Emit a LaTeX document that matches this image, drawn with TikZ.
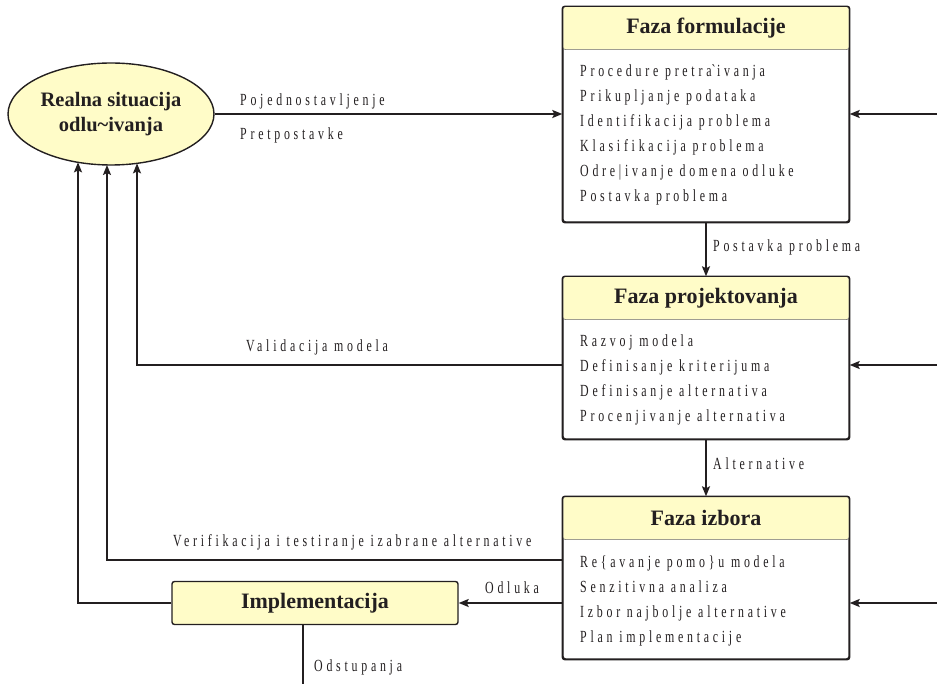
\documentclass[tikz,border=0pt]{standalone}
\usepackage{fontspec}
\setmainfont{Liberation Serif}
\newfontfamily\spacedfont{Liberation Serif}[FakeStretch=0.7,LetterSpace=22,Ligatures=CommonOff]
\usetikzlibrary{arrows.meta,intersections,calc,shapes.geometric}
\definecolor{ink}{HTML}{231F20}
\definecolor{hdr}{HTML}{FFFCC8}
\definecolor{rulegray}{HTML}{6D6A6B}

\tikzset{
  lbl/.style={font=\fontsize{17}{25}\selectfont\spacedfont, text=ink, inner sep=0pt, anchor=base west},
  ttl/.style={font=\fontsize{22}{25}\selectfont\bfseries, text=ink},
  phase/.style={draw=ink, line width=1.4pt, fill=white, rounded corners=2.5pt,
                minimum width=286pt, inner sep=0pt},
  header/.style={ttl, draw=rulegray, line width=0.6pt, fill=hdr, rounded corners=2.5pt,
                 minimum width=286pt, minimum height=43pt, inner sep=0pt, anchor=north},
  outline/.style={draw=ink, line width=1.4pt, rounded corners=2.5pt},
  flow/.style={draw=ink, line width=1.8pt},
  arr/.style={flow, -{Stealth[length=10pt,width=8pt,inset=2pt]}},
}

\begin{document}
\begin{tikzpicture}[x=1pt,y=-1pt]
\useasboundingbox (0,0) rectangle (937,684);

% situation ellipse
\node[ellipse, draw=ink, line width=1.4pt, fill=hdr, minimum width=206pt, minimum height=102pt,
      inner sep=0pt, align=center, font=\fontsize{20.5}{25}\selectfont\bfseries, text=ink]
      (ell) at (111,114) {Realna situacija\\odlu\textasciitilde ivanja};
\path[name path=rim] (111,114) ellipse [x radius=103, y radius=51];

% phase boxes
\node[phase, minimum height=215pt] (f1) at (706,114.5) {};
\node[header] (f1h) at (f1.north) {Faza formulacije};
\draw[outline] (f1.south west) rectangle (f1.north east);
\foreach \t [count=\i] in {Procedure pretra\textasciigrave ivanja, Prikupljanje podataka,
    Identifikacija problema, Klasifikacija problema, Odre\textbar ivanje domena odluke,
    Postavka problema}
  \node[lbl] (f1-\i) at (580,{77+25*(\i-1)}) {\t};

\node[phase, minimum height=162pt] (f2) at (706,358) {};
\node[header] (f2h) at (f2.north) {Faza projektovanja};
\draw[outline] (f2.south west) rectangle (f2.north east);
\foreach \t [count=\i] in {Razvoj modela, Definisanje kriterijuma,
    Definisanje alternativa, Procenjivanje alternativa}
  \node[lbl] (f2-\i) at (580,{347+24.7*(\i-1)}) {\t};

\node[phase, minimum height=162pt] (f3) at (706,578) {};
\node[header] (f3h) at (f3.north) {Faza izbora};
\draw[outline] (f3.south west) rectangle (f3.north east);
\foreach \t [count=\i] in {Re\{avanje pomo\}u modela, Senzitivna analiza,
    Izbor najbolje alternative, Plan implementacije}
  \node[lbl] (f3-\i) at (580,{567+25*(\i-1)}) {\t};

\node[header, anchor=center, draw=ink, line width=1.4pt] (impl) at (315,603) {Implementacija};

% free ends of connectors
\coordinate (r1) at (937,114);
\coordinate (r2) at (937,365);
\coordinate (r3) at (937,603);
\coordinate (vy) at (0,560);
\coordinate (odst) at (303,684);

% landing points on the ellipse rim
\path[name path=c1] (78,300) -- (78,0);
\path[name path=c2] (107,300) -- (107,0);
\path[name path=c3] (137,300) -- (137,0);
\path[name intersections={of=rim and c1, by=e1}];
\path[name intersections={of=rim and c2, by=e2}];
\path[name intersections={of=rim and c3, by=e3}];

% connectors
\draw[arr] (ell.east) -- (ell.east -| f1.west);
\draw[arr] (f1.south) -- (f2.north);
\draw[arr] (f2.south) -- (f3.north);
\draw[arr] (r1) -- (f1.east |- r1);
\draw[arr] (r2) -- (f2.east |- r2);
\draw[arr] (r3) -- (f3.east |- r3);
\draw[arr] (f2.west |- r2) -| (e3);
\draw[arr] (f3.west |- vy) -| (e2);
\draw[arr] (f3.west |- r3) -- (impl.east |- r3);
\draw[arr] (impl.west) -| (e1);
\draw[flow] (impl.south -| odst) -- (odst);

% connector labels
\node[lbl] (l-poj) at (240,106) {Pojednostavljenje};
\node[lbl] (l-pret) at (240,140) {Pretpostavke};
\node[lbl] (l-post) at (713,252) {Postavka problema};
\node[lbl] (l-val) at (246,352) {Validacija modela};
\node[lbl] (l-alt) at (713,469) {Alternative};
\node[lbl] (l-ver) at (173,546) {Verifikacija i testiranje izabrane alternative};
\node[lbl] (l-odl) at (485,593) {Odluka};
\node[lbl] (l-ods) at (314,671) {Odstupanja};
\end{tikzpicture}
\end{document}
